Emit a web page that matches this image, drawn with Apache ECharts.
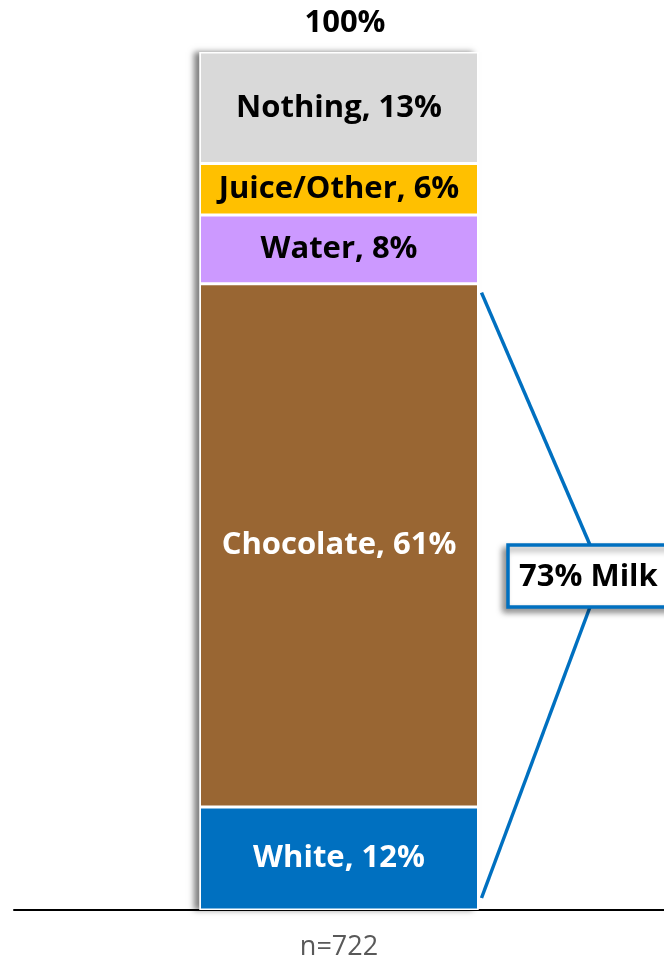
<!DOCTYPE html>
<html><head><meta charset="utf-8">
<script src="https://cdn.jsdelivr.net/npm/echarts@6/dist/echarts.min.js"></script>
<style>html,body{margin:0;padding:0;background:#fff}#c{width:664px;height:964px}</style>
</head><body><div id="c"></div>
<script>
const categories = ['n=722'];
const seriesNames = ['White', 'Chocolate', 'Water', 'Juice/Other', 'Nothing'];
const values = [12, 61, 8, 6, 13];
const colors = ['#0070C0', '#996633', '#CC99FF', '#FFC000', '#D9D9D9'];
const labelColors = ['#ffffff', '#ffffff', '#000000', '#000000', '#000000'];
const milkNames = ['White', 'Chocolate'];
const totalLabel = '100%';
const calloutText = '73% Milk';

const FONT = '"Open Sans"';
const BW = 279;
const total = values.reduce((a, b) => a + b, 0);
const chart = echarts.init(document.getElementById('c'));
const series = [{
  name: 'shadow', type: 'bar', stack: 'bg', barWidth: BW, barGap: '-100%', z: 1,
  data: [total], silent: true,
  itemStyle: { color: '#ffffff', shadowColor: 'rgba(0,0,0,0.5)', shadowBlur: 6, shadowOffsetX: -6 },
  label: { show: false }, emphasis: { disabled: true }
}].concat(seriesNames.map((n, i) => ({
  name: n, type: 'bar', stack: 'all', barWidth: BW, barGap: '-100%', z: 2,
  data: [values[i]],
  itemStyle: { color: colors[i], borderColor: '#ffffff', borderWidth: 1.5 },
  label: { show: true, position: 'inside', formatter: n + ', ' + values[i] + '%',
    color: labelColors[i], fontFamily: FONT, fontWeight: 'bold', fontSize: 31 },
  emphasis: { disabled: true }
})));
chart.setOption({
  animation: false,
  grid: { left: 14, right: 0, top: 52, bottom: 54 },
  xAxis: { type: 'category', data: categories,
    axisLine: { lineStyle: { color: '#000', width: 2 } }, axisTick: { show: false },
    axisLabel: { color: '#595959', fontFamily: FONT, fontSize: 27, margin: 24 } },
  yAxis: { type: 'value', min: 0, max: 100, show: false, splitLine: { show: false } },
  series: series
});

const milk = values.filter((v, i) => milkNames.includes(seriesNames[i])).reduce((a, b) => a + b, 0);
const pTop = chart.convertToPixel({ seriesIndex: 1 }, [0, milk]);
const pBot = chart.convertToPixel({ seriesIndex: 1 }, [0, 0]);
const pAll = chart.convertToPixel({ seriesIndex: 1 }, [0, total]);
const barRight = pTop[0] + BW / 2 + 3;
const boxX = 508, boxY = 545, boxW = 175, boxH = 62;
const joinX = 590;
chart.setOption({
  graphic: [
    { type: 'polyline', shape: { points: [[barRight, pTop[1] + 9], [joinX, boxY]] },
      style: { stroke: '#0070C0', lineWidth: 3.5, fill: null } },
    { type: 'polyline', shape: { points: [[joinX, boxY + boxH], [barRight, pBot[1] - 12]] },
      style: { stroke: '#0070C0', lineWidth: 3.5, fill: null } },
    { type: 'rect', shape: { x: boxX, y: boxY, width: boxW, height: boxH },
      style: { fill: '#fff', stroke: '#0070C0', lineWidth: 3.5,
        shadowColor: 'rgba(0,0,0,0.4)', shadowBlur: 6, shadowOffsetX: -4, shadowOffsetY: 4 } },
    { type: 'text', x: boxX + 11, y: boxY + boxH / 2 + 1,
      style: { text: calloutText, fill: '#000', font: 'bold 31px ' + FONT, textVerticalAlign: 'middle' } },
    { type: 'text', x: pAll[0] + 6, y: pAll[1] - 29,
      style: { text: totalLabel, fill: '#000', font: 'bold 31px ' + FONT, textAlign: 'center', textVerticalAlign: 'middle' } }
  ]
});
</script></body></html>
